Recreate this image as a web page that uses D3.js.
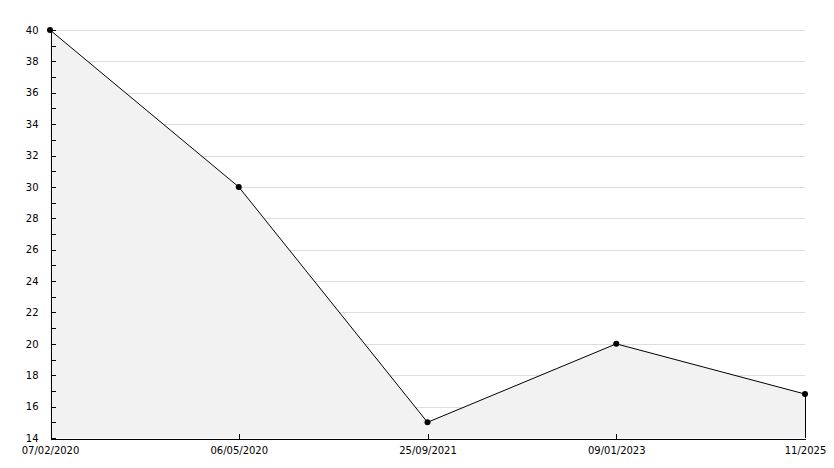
<!DOCTYPE html>
<html lang="en">

<head>
  <meta charset="utf-8">
  <title>Line chart</title>
  <style>
    body {
      margin: 0;
      background: #fff;
    }

    .axis text {
      font: 10px "DejaVu Sans", sans-serif;
      fill: #000;
    }

    .axis path,
    .axis line {
      stroke: #000;
      shape-rendering: crispEdges;
    }

    .grid line {
      stroke: #dddddd;
      shape-rendering: crispEdges;
    }
  </style>
</head>

<body>
  <div id="chart"></div>
</body>
<script src="https://d3js.org/d3.v7.min.js"></script>

<script>

  // data
  let dates = ["07/02/2020", "06/05/2020", "25/09/2021", "09/01/2023", "11/2025"];
  let values = [40, 30, 15, 20, 16.8];
  let yTicks = [14, 16, 18, 20, 22, 24, 26, 28, 30, 32, 34, 36, 38, 40];
  let yMinor = [15, 17, 19, 21, 23, 25, 27, 29, 31, 33, 35, 37, 39];

  let width = 834;
  let height = 468;
  let mLeft = 50, mRight = 805, mTop = 30, mBottom = 438;

  let svg = d3.select("#chart")
    .append("svg")
    .attr("width", width)
    .attr("height", height);

  let x = d3.scalePoint().domain(dates).range([mLeft, mRight]);
  let y = d3.scaleLinear().domain([14, 40]).range([mBottom, mTop]);

  let data = dates.map((d, i) => { return { date: d, value: values[i] } });

  // grid
  svg.append("g")
    .attr("class", "grid")
    .selectAll("line")
    .data(yTicks.slice(1))
    .enter()
    .append("line")
    .attr("x1", mLeft)
    .attr("x2", mRight)
    .attr("y1", (d) => { return Math.round(y(d)) + 0.5 })
    .attr("y2", (d) => { return Math.round(y(d)) + 0.5 })

  // area
  let area = d3.area()
    .x((d) => { return x(d.date) })
    .y0(y(14))
    .y1((d) => { return y(d.value) })

  svg.append("path")
    .datum(data)
    .attr("d", area)
    .attr("fill", "#f2f2f2")

  // right edge of area
  svg.append("line")
    .attr("x1", x(dates[dates.length - 1]) + 0.5)
    .attr("x2", x(dates[dates.length - 1]) + 0.5)
    .attr("y1", y(values[values.length - 1]))
    .attr("y2", y(14))
    .attr("stroke", "#000")
    .attr("shape-rendering", "crispEdges")

  // y axis with minor ticks
  svg.append("g")
    .attr("class", "axis")
    .attr("transform", "translate(" + (mLeft + 0.5) + ",0)")
    .call(d3.axisLeft(y).tickValues(yMinor).tickSize(-5).tickFormat(""))
    .call((g) => g.select(".domain").remove())

  svg.append("g")
    .attr("class", "axis")
    .attr("transform", "translate(" + (mLeft + 0.5) + ",0)")
    .call(d3.axisLeft(y).tickValues(yTicks).tickSizeInner(-5).tickSizeOuter(0).tickPadding(12))

  // x axis
  svg.append("g")
    .attr("class", "axis")
    .attr("transform", "translate(0," + (mBottom + 0.5) + ")")
    .call(d3.axisBottom(x).tickSizeInner(-5).tickSizeOuter(0).tickPadding(8))
    .call((g) => g.selectAll(".tick line").filter((d, i) => i == 0 || i == dates.length - 1).remove())

  // line
  let line = d3.line()
    .x((d) => { return x(d.date) })
    .y((d) => { return y(d.value) })

  svg.append("path")
    .datum(data)
    .attr("d", line)
    .attr("fill", "none")
    .attr("stroke", "#000")
    .attr("stroke-width", 1)

  // markers
  svg.selectAll(".dot")
    .data(data)
    .enter()
    .append("circle")
    .attr("class", "dot")
    .attr("cx", (d) => { return x(d.date) })
    .attr("cy", (d) => { return y(d.value) })
    .attr("r", 3)
    .attr("fill", "#000")

</script>
</html>
